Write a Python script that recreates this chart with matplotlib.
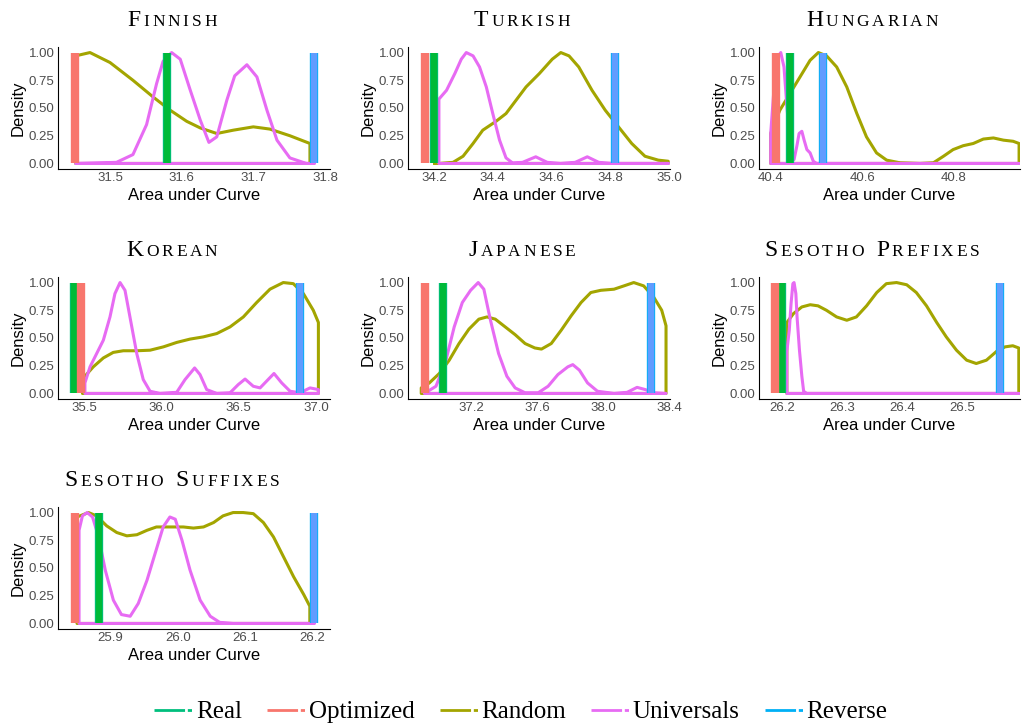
import matplotlib
matplotlib.use("Agg")
import matplotlib.pyplot as plt
from matplotlib.lines import Line2D
from matplotlib.offsetbox import TextArea, HPacker, AnnotationBbox
from matplotlib.transforms import Bbox, TransformedBbox

plt.rcParams['lines.scale_dashes'] = False

# Data
languages = ["Finnish", "Turkish", "Hungarian", "Korean", "Japanese",
             "Sesotho Prefixes", "Sesotho Suffixes"]
real_auc = [31.579, 34.202, 40.443, 35.435, 37.032, 26.199, 25.882]
optimized_auc = [31.451, 34.171, 40.412, 35.481, 36.922, 26.187, 25.847]
reverse_auc = [31.785, 34.816, 40.515, 36.896, 38.285, 26.562, 26.2025]

x_ticks = [[31.5, 31.6, 31.7, 31.8],
           [34.2, 34.4, 34.6, 34.8, 35.0],
           [40.4, 40.6, 40.8],
           [35.5, 36.0, 36.5, 37.0],
           [37.2, 37.6, 38.0, 38.4],
           [26.2, 26.3, 26.4, 26.5],
           [25.9, 26.0, 26.1, 26.2]]
x_limits = [(31.4274, 31.807), (34.112, 35.002), (40.3745, 40.944),
            (35.332, 37.090), (36.82, 38.402), (26.1605, 26.596),
            (25.8217, 26.226)]

# Random (scaled density)
fin_rand_x = [31.452, 31.472, 31.500, 31.532, 31.560, 31.584, 31.607, 31.626, 31.649,
              31.672, 31.700, 31.723, 31.751, 31.779]
fin_rand_y = [0.97, 1.00, 0.91, 0.75, 0.60, 0.48, 0.38, 0.32, 0.27, 0.30, 0.33, 0.31,
              0.25, 0.18]
tur_rand_x = [34.202, 34.220, 34.265, 34.299, 34.333, 34.366, 34.411, 34.445, 34.479,
              34.513, 34.558, 34.602, 34.631, 34.659, 34.692, 34.737, 34.782, 34.827,
              34.872, 34.917, 34.962, 34.996]
tur_rand_y = [0.0, 0.0, 0.01, 0.065, 0.18, 0.30, 0.38, 0.45, 0.57, 0.69, 0.81, 0.94,
              1.0, 0.97, 0.87, 0.66, 0.48, 0.33, 0.18, 0.065, 0.03, 0.02]
hun_rand_x = [40.400, 40.420, 40.442, 40.464, 40.486, 40.504, 40.522, 40.544, 40.566,
              40.588, 40.609, 40.631, 40.653, 40.682, 40.726, 40.755, 40.777, 40.798,
              40.820, 40.842, 40.864, 40.886, 40.908, 40.929, 40.942]
hun_rand_y = [0.27, 0.48, 0.63, 0.78, 0.93, 1.0, 0.97, 0.87, 0.69, 0.45, 0.24, 0.095,
              0.03, 0.006, 0.0, 0.006, 0.065, 0.125, 0.16, 0.18, 0.22, 0.23, 0.21,
              0.20, 0.18]
kor_rand_x = [35.490, 35.560, 35.625, 35.689, 35.754, 35.841, 35.927, 36.013, 36.099,
              36.185, 36.271, 36.358, 36.444, 36.530, 36.616, 36.702, 36.788, 36.853,
              36.918, 36.982, 37.015]
kor_rand_y = [0.13, 0.24, 0.32, 0.37, 0.385, 0.385, 0.39, 0.42, 0.46, 0.49, 0.51,
              0.54, 0.60, 0.69, 0.82, 0.94, 1.0, 0.99, 0.90, 0.75, 0.64]
jap_rand_x = [36.900, 36.949, 37.009, 37.069, 37.128, 37.188, 37.248, 37.297, 37.347,
              37.407, 37.467, 37.527, 37.586, 37.626, 37.685, 37.745, 37.805, 37.865,
              37.924, 37.984, 38.064, 38.124, 38.183, 38.243, 38.303, 38.352, 38.378]
jap_rand_y = [0.05, 0.095, 0.18, 0.30, 0.45, 0.58, 0.67, 0.69, 0.67, 0.60, 0.53, 0.45,
              0.41, 0.40, 0.45, 0.57, 0.70, 0.82, 0.91, 0.93, 0.94, 0.97, 1.0, 0.97,
              0.87, 0.75, 0.61]
sp_rand_x = [26.207, 26.218, 26.232, 26.246, 26.259, 26.273, 26.290, 26.307, 26.323,
             26.340, 26.357, 26.373, 26.390, 26.407, 26.423, 26.440, 26.457, 26.473,
             26.490, 26.507, 26.523, 26.540, 26.557, 26.571, 26.584, 26.594]
sp_rand_y = [0.64, 0.72, 0.78, 0.80, 0.79, 0.75, 0.69, 0.66, 0.69, 0.79, 0.91, 0.99,
             1.0, 0.98, 0.91, 0.79, 0.64, 0.51, 0.39, 0.30, 0.27, 0.30, 0.38, 0.42,
             0.43, 0.41]
ss_rand_x = [25.850, 25.867, 25.879, 25.894, 25.909, 25.924, 25.939, 25.954, 25.968,
             25.988, 26.008, 26.023, 26.038, 26.053, 26.067, 26.082, 26.097, 26.112,
             26.127, 26.142, 26.157, 26.172, 26.187, 26.196]
ss_rand_y = [0.96, 1.0, 0.97, 0.88, 0.82, 0.79, 0.80, 0.84, 0.87, 0.87, 0.87, 0.86,
             0.87, 0.91, 0.97, 1.0, 1.0, 0.99, 0.91, 0.78, 0.60, 0.42, 0.26, 0.155]

# Universals (scaled density)
fin_univ_x = [31.452, 31.509, 31.532, 31.551, 31.565, 31.574, 31.586, 31.598, 31.612,
              31.626, 31.638, 31.649, 31.663, 31.674, 31.691, 31.705, 31.719, 31.733,
              31.751, 31.774, 31.785]
fin_univ_y = [0.0, 0.01, 0.08, 0.35, 0.72, 0.92, 1.0, 0.94, 0.66, 0.39, 0.19, 0.24,
              0.57, 0.79, 0.89, 0.78, 0.48, 0.21, 0.05, 0.0, 0.0]
tur_univ_x = [34.217, 34.243, 34.271, 34.293, 34.310, 34.333, 34.355, 34.378, 34.400,
              34.423, 34.445, 34.467, 34.501, 34.546, 34.585, 34.630, 34.680, 34.721,
              34.760, 34.805, 34.996]
tur_univ_y = [0.58, 0.66, 0.81, 0.94, 1.0, 0.97, 0.87, 0.69, 0.45, 0.21, 0.05, 0.005,
              0.01, 0.06, 0.01, 0.0, 0.01, 0.06, 0.01, 0.0, 0.0]
hun_univ_x = [40.400, 40.408, 40.415, 40.422, 40.429, 40.436, 40.444, 40.451, 40.457,
              40.462, 40.468, 40.473, 40.479, 40.486, 40.493, 40.500, 40.942]
hun_univ_y = [0.27, 0.72, 0.96, 1.0, 0.87, 0.48, 0.155, 0.035, 0.155, 0.27, 0.29, 0.21,
              0.125, 0.095, 0.02, 0.0, 0.0]
kor_univ_x = [35.506, 35.539, 35.582, 35.625, 35.668, 35.700, 35.733, 35.765, 35.797,
              35.841, 35.883, 35.927, 35.991, 36.099, 36.153, 36.215, 36.250, 36.293,
              36.358, 36.444, 36.497, 36.541, 36.594, 36.638, 36.728, 36.778, 36.832,
              36.896, 36.961, 37.015]
kor_univ_y = [0.095, 0.24, 0.36, 0.48, 0.69, 0.90, 1.0, 0.93, 0.69, 0.36, 0.125, 0.02,
              0.0, 0.01, 0.125, 0.23, 0.17, 0.035, 0.0, 0.006, 0.08, 0.13, 0.065, 0.05,
              0.18, 0.095, 0.02, 0.006, 0.05, 0.035]
jap_univ_x = [36.919, 36.989, 37.049, 37.099, 37.148, 37.198, 37.244, 37.278, 37.318,
              37.367, 37.417, 37.467, 37.527, 37.606, 37.666, 37.725, 37.785, 37.815,
              37.855, 37.904, 37.964, 38.064, 38.143, 38.203, 38.253, 38.303, 38.378]
jap_univ_y = [0.0, 0.065, 0.30, 0.60, 0.82, 0.93, 1.0, 0.94, 0.66, 0.36, 0.155, 0.05,
              0.006, 0.006, 0.065, 0.17, 0.24, 0.26, 0.21, 0.095, 0.02, 0.0, 0.01,
              0.055, 0.035, 0.006, 0.0]
sp_univ_x = [26.207, 26.211, 26.214, 26.217, 26.219, 26.222, 26.224, 26.228, 26.232,
             26.235, 26.240, 26.594]
sp_univ_y = [0.38, 0.57, 0.81, 0.99, 1.0, 0.90, 0.69, 0.39, 0.155, 0.02, 0.0, 0.0]
ss_univ_x = [25.853, 25.858, 25.865, 25.873, 25.882, 25.892, 25.904, 25.916, 25.929,
             25.941, 25.954, 25.966, 25.978, 25.988, 25.996, 26.006, 26.018, 26.033,
             26.048, 26.062, 26.082, 26.2025]
ss_univ_y = [0.84, 0.97, 1.0, 0.96, 0.78, 0.48, 0.21, 0.08, 0.065, 0.18, 0.39, 0.63,
             0.87, 0.96, 0.94, 0.75, 0.48, 0.21, 0.065, 0.01, 0.0, 0.0]

random_curves = [(fin_rand_x, fin_rand_y), (tur_rand_x, tur_rand_y),
                 (hun_rand_x, hun_rand_y), (kor_rand_x, kor_rand_y),
                 (jap_rand_x, jap_rand_y), (sp_rand_x, sp_rand_y),
                 (ss_rand_x, ss_rand_y)]
univ_curves = [(fin_univ_x, fin_univ_y), (tur_univ_x, tur_univ_y),
               (hun_univ_x, hun_univ_y), (kor_univ_x, kor_univ_y),
               (jap_univ_x, jap_univ_y), (sp_univ_x, sp_univ_y),
               (ss_univ_x, ss_univ_y)]

# Colours (ggplot hue palette)
c_real, c_opt, c_rand, c_univ, c_rev = "#00BF7D", "#F8766D", "#A3A500", "#E76BF3", "#00B0F6"
fill_real, fill_opt, fill_rev = "#00BA38", "#F8766D", "#619CFF"

W, H = 1024, 725
fig = plt.figure(figsize=(W / 100, H / 100), dpi=100)

col_left = [58, 408, 759]
col_width = [272, 262, 261]
col_title = [172, 522, 872]
col_edges = [(0, 341), (341, 682), (682, 1024)]
row_bottom = [169, 399, 629]
ax_h = 122

sans = "Liberation Sans"
serif = "Liberation Serif"


def smallcaps_title(text, x, y):
    words = []
    for w in text.split():
        kids = [TextArea(w[0], textprops=dict(fontsize=17, family=serif))]
        kids += [TextArea(ch.upper(), textprops=dict(fontsize=12.5, family=serif))
                 for ch in w[1:]]
        words.append(HPacker(children=kids, align="baseline", pad=0, sep=2.0))
    box = HPacker(children=words, align="baseline", pad=0, sep=9)
    ab = AnnotationBbox(box, (x, y), xycoords="figure pixels", frameon=False,
                        box_alignment=(0.5, 0.5))
    fig.add_artist(ab)


def draw_density(ax, xs, ys, color):
    px = list(xs) + [xs[-1], xs[0]]
    py = list(ys) + [0, 0]
    ax.fill(px, py, fill=False, edgecolor=color, lw=2.2, joinstyle="round")


for i, lang in enumerate(languages):
    r, c = divmod(i, 3)
    left = col_left[c]
    bottom = row_bottom[r]
    ax = fig.add_axes([left / W, 1 - bottom / H, col_width[c] / W, ax_h / H])

    draw_density(ax, *random_curves[i], c_rand)
    draw_density(ax, *univ_curves[i], c_univ)

    for val, fc, ec in [(real_auc[i], fill_real, c_real),
                        (optimized_auc[i], fill_opt, c_opt),
                        (reverse_auc[i], fill_rev, c_rev)]:
        ax.vlines(val, 0, 1, colors=ec, lw=6.0)
        ax.vlines(val, 0, 1, colors=fc, lw=4.6)

    ax.set_xlim(*x_limits[i])
    ax.set_ylim(-0.05, 1.05)
    ax.set_xticks(x_ticks[i])
    ax.set_xticklabels([f"{t:.1f}" for t in x_ticks[i]])
    ax.set_yticks([0, 0.25, 0.5, 0.75, 1.0])
    ax.set_yticklabels(["0.00", "0.25", "0.50", "0.75", "1.00"])
    ax.tick_params(length=0, pad=2.5, labelsize=9.5, labelcolor="#4D4D4D")
    for lbl in ax.get_xticklabels() + ax.get_yticklabels():
        lbl.set_family(sans)
    for s in ["top", "right"]:
        ax.spines[s].set_visible(False)
    for s in ["left", "bottom"]:
        ax.spines[s].set_linewidth(0.8)
    ax.set_facecolor("none")

    ax.set_xlabel("Area under Curve", fontsize=12, family=sans)
    ax.xaxis.set_label_coords(0.5, -19 / ax_h)
    ax.set_ylabel("Density", fontsize=12, family=sans)
    ax.yaxis.set_label_coords(-32 / col_width[c], 0.5)

    # clip tick labels to the panel cell like the original composed images
    x0, x1 = col_edges[c]
    cb = TransformedBbox(Bbox.from_extents(x0 / W, 0, x1 / W, 1), fig.transFigure)
    for lbl in ax.get_xticklabels():
        lbl.set_clip_box(cb)
        lbl.set_clip_on(True)

    smallcaps_title(lang, col_title[c], H - (21 + 230 * r))

# Legend
handles = [Line2D([], [], color=col, lw=2.0, dashes=[22, 2, 3, 2])
           for col in [c_real, c_opt, c_rand, c_univ, c_rev]]
fig.legend(handles, ["Real", "Optimized", "Random", "Universals", "Reverse"],
           loc="center", bbox_to_anchor=(521 / W, 1 - 712 / H), ncol=5,
           frameon=False, prop=dict(family=serif, size=18),
           handlelength=1.52, handletextpad=0.15, columnspacing=1.0)

fig.savefig("out.png", dpi=100)
